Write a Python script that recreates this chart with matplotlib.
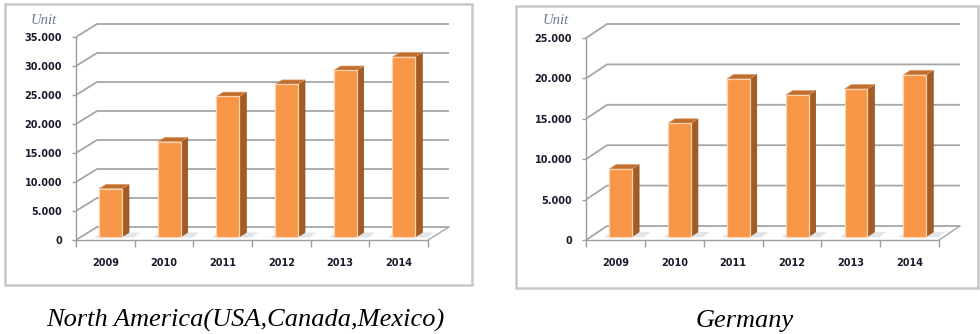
import matplotlib.pyplot as plt
from matplotlib.patches import Polygon, Rectangle

years = ["2009", "2010", "2011", "2012", "2013", "2014"]
north_america_units = [8300, 16400, 24200, 26300, 28700, 31000]
germany_units = [8350, 14000, 19500, 17500, 18250, 20000]
north_america_max = 35000
germany_max = 25000
tick_step = 5000

W, H = 980, 334
FRONT = "#F79646"
SIDE = "#A35D24"
TOP = "#C06E2E"
GRID = "#A6A6A6"
LABEL = "#1A1A2E"


def add_axes_px(fig, left, top, right, bottom):
    return fig.add_axes([left / W, 1 - bottom / H, (right - left) / W, (bottom - top) / H])


def add_frame(fig, left, top, right, bottom):
    # shadowed outline round each chart
    fig.patches.append(Rectangle((left / W, 1 - bottom / H), (right - left) / W,
                                 (bottom - top) / H, transform=fig.transFigure,
                                 fill=False, edgecolor="#C8C8C8", linewidth=1.8))


def fmt_thousands(v):
    return f"{v:,.0f}".replace(",", ".")


def draw_panel(fig, ax, values, ymax, unit_xy, depth_px=(21, 13)):
    n = len(years)
    ax.set_xlim(0, n)
    ax.set_ylim(0, ymax)
    pos = ax.get_position()
    ddx = depth_px[0] / (pos.width * W) * n
    ddy = depth_px[1] / (pos.height * H) * ymax

    # back wall gridlines and left wall diagonals
    for t in range(0, ymax + 1, tick_step):
        ax.plot([0, ddx, n + ddx], [t, t + ddy, t + ddy], color=GRID, lw=1.3,
                clip_on=False, zorder=1, solid_capstyle="butt")
    ax.plot([n, n + ddx], [0, ddy], color=GRID, lw=1.0, clip_on=False, zorder=1)

    # 3D-ish bars: front face via ax.bar, side and top as polygons
    f0, f1 = 0.25, 0.58
    bd = f1 - f0
    width = 0.39
    centers = [i + 0.5 + f0 * ddx for i in range(n)]
    base = f0 * ddy
    for c, v in zip(centers, values):
        x0, x1 = c - width / 2, c + width / 2
        top = base + v
        shadow = Polygon([(x0 - 0.08, base - 0.004 * ymax), (x1 + 0.2, base - 0.004 * ymax),
                          (x1 + 0.2 + bd * ddx, base + bd * ddy),
                          (x0 - 0.08 + bd * ddx, base + bd * ddy)],
                         closed=True, facecolor="#E4E4E4", edgecolor="none",
                         zorder=2, clip_on=False)
        ax.add_patch(shadow)
        side = Polygon([(x1, base), (x1, top), (x1 + bd * ddx, top + bd * ddy),
                        (x1 + bd * ddx, base + bd * ddy)],
                       closed=True, facecolor=SIDE, edgecolor="#8A4A1A", lw=0.5,
                       zorder=3, clip_on=False)
        ax.add_patch(side)
        lid = Polygon([(x0, top), (x1, top), (x1 + bd * ddx, top + bd * ddy),
                       (x0 + bd * ddx, top + bd * ddy)],
                      closed=True, facecolor=TOP, edgecolor="#E0A070", lw=0.5,
                      zorder=3, clip_on=False)
        ax.add_patch(lid)
    ax.bar(centers, values, width=width, bottom=base, color=FRONT,
           edgecolor="#FCD3B0", linewidth=0.9, zorder=4, clip_on=False)

    for side_name in ("top", "right"):
        ax.spines[side_name].set_visible(False)
    for side_name in ("left", "bottom"):
        ax.spines[side_name].set_color("#9E9E9E")
        ax.spines[side_name].set_linewidth(1.0)
    ax.set_facecolor("none")

    ax.set_yticks(range(0, ymax + 1, tick_step))
    ax.set_yticklabels([fmt_thousands(t) for t in range(0, ymax + 1, tick_step)])
    ax.set_xticks(range(n + 1))
    ax.set_xticklabels([""] * (n + 1))
    ax.set_xticks([i + 0.5 for i in range(n)], minor=True)
    ax.set_xticklabels(years, minor=True)
    ax.tick_params(axis="y", length=3, width=1, color="#9E9E9E", pad=7,
                   labelsize=7, labelcolor=LABEL)
    ax.tick_params(axis="x", which="major", length=5, width=1, color="#9E9E9E")
    ax.tick_params(axis="x", which="minor", length=0, pad=13, labelsize=7,
                   labelcolor=LABEL)
    for lbl in ax.get_yticklabels() + ax.get_xticklabels(minor=True):
        lbl.set_fontweight("bold")

    fig.text(unit_xy[0] / W, 1 - unit_xy[1] / H, "Unit", ha="center", va="center",
             fontsize=10.5, style="italic", family="Liberation Serif", color="#6E7A99")


fig = plt.figure(figsize=(W / 100, H / 100), dpi=100)

add_frame(fig, 4.5, 4, 472, 285)
add_frame(fig, 516, 6, 978, 288)

ax_na = add_axes_px(fig, 76, 37, 428, 240)
draw_panel(fig, ax_na, north_america_units, north_america_max, (44, 20))

ax_de = add_axes_px(fig, 586, 38, 939, 240)
draw_panel(fig, ax_de, germany_units, germany_max, (556, 21), depth_px=(21, 14))

caption_y = 1 - 327 / H
fig.text(245 / W, caption_y, "North America(USA,Canada,Mexico)", ha="center",
         va="baseline", fontsize=19, style="italic", family="Liberation Serif")
fig.text(745 / W, caption_y, "Germany", ha="center", va="baseline", fontsize=19,
         style="italic", family="Liberation Serif")

fig.savefig("out.png", dpi=100)
